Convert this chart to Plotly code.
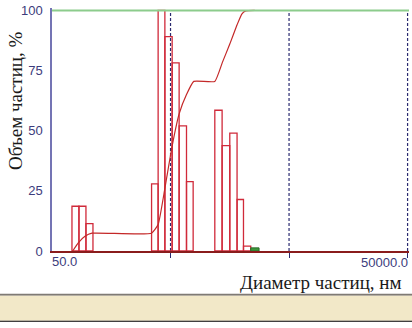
import math
import plotly.graph_objects as go

# ---- data ----
# bin edges (nm) and heights (% of max) of the volume histogram
bar_left_nm = [73.7, 84.4, 96.7,
               346, 393, 448, 516, 591, 682,
               1182, 1362, 1581, 1821, 2063]
bar_right_nm = [84.4, 96.7, 110.8,
                393, 448, 516, 591, 682, 776,
                1362, 1581, 1821, 2063, 2376]
bar_pct = [18.6, 18.6, 11.4,
           27.9, 100.0, 89.1, 78.2, 52.0, 28.8,
           58.5, 43.8, 49.0, 21.4, 2.0]

# last small bin drawn in green
green_left_nm = [2376]
green_right_nm = [2792]
green_pct = [1.3]

# cumulative volume curve
cum_x_nm = [74.7, 83.3, 94.9, 108.7, 346, 393, 448, 513, 591, 682, 786,
            1182, 1372, 1581, 1821, 1996, 2157, 2568]
cum_pct = [0.0, 3.4, 6.1, 7.4, 7.4, 11.0, 26.0, 43.0, 57.0, 65.0, 70.5,
           70.5, 78.5, 86.0, 94.0, 98.5, 99.8, 100.0]

decade_lines_nm = [500, 5000, 50000]
y_ticks = [0, 25, 50, 75, 100]
x_min_nm, x_max_nm = 50.0, 50000.0
x_tick_text = ["50.0", "50000.0"]

# ---- build figure ----
def rect_path(lefts, rights, heights):
    xs, ys = [], []
    for l, r, h in zip(lefts, rights, heights):
        xs += [l, l, r, r, l, None]
        ys += [0, h, h, 0, 0, None]
    return xs, ys

fig = go.Figure()

# decade dashed lines
dx, dy = [], []
for v in decade_lines_nm:
    dx += [v, v, None]
    dy += [0, 100, None]
fig.add_trace(go.Scatter(x=dx, y=dy, mode="lines", hoverinfo="skip",
                         line=dict(color="#2a2a70", width=1.2, dash="3px,2px")))

bx, by = rect_path(bar_left_nm, bar_right_nm, bar_pct)
fig.add_trace(go.Scatter(x=bx, y=by, mode="lines",
                         line=dict(color="#d02a3a", width=1.3)))

gx, gy = rect_path(green_left_nm, green_right_nm, green_pct)
fig.add_trace(go.Scatter(x=gx, y=gy, mode="lines", fill="toself",
                         fillcolor="#3c9a3c",
                         line=dict(color="#2a6a2a", width=1)))

fig.add_trace(go.Scatter(x=cum_x_nm, y=cum_pct, mode="lines",
                         line=dict(color="#c42828", width=1.2, shape="spline", smoothing=0.4)))

# green 100% line
fig.add_shape(type="line", xref="paper", yref="y", x0=0, x1=1, y0=100, y1=100,
              line=dict(color="#8ccc8c", width=2))

lx0 = math.log10(x_min_nm)
lx1 = math.log10(x_max_nm)

fig.update_layout(
    width=412, height=328,
    margin=dict(l=52, r=2.6, t=4.56, b=76.5, pad=0),
    paper_bgcolor="white", plot_bgcolor="white",
    showlegend=False,
    xaxis=dict(type="log", range=[lx0, lx1 + 0.012],
               showgrid=False, zeroline=False,
               showline=True, linecolor="#8a1c1c", linewidth=1.5,
               tickmode="array", tickvals=decade_lines_nm,
               ticks="outside", ticklen=5, tickcolor="#2a2a70", tickwidth=1.2,
               showticklabels=False),
    yaxis=dict(range=[0, 101], showgrid=False, zeroline=False,
               showline=True, linecolor="#7474b4", linewidth=1.5,
               tickmode="array", tickvals=y_ticks,
               ticks="", ticklabelstandoff=5, ticklabeloverflow="allow",
               tickfont=dict(family="Liberation Sans, Arial", size=13, color="#3c3c7c")),
    font=dict(family="Liberation Sans, Arial"),
)

# x tick labels at the axis ends
fig.add_annotation(x=lx0, xref="x", y=0, yref="paper", yanchor="top",
                   xanchor="left", text=x_tick_text[0], showarrow=False,
                   yshift=-1, xshift=-2,
                   font=dict(family="Liberation Sans, Arial", size=13, color="#3c3c7c"))
fig.add_annotation(x=lx1, xref="x", y=0, yref="paper", yanchor="top",
                   xanchor="right", text=x_tick_text[1], showarrow=False,
                   yshift=-2, xshift=2,
                   font=dict(family="Liberation Sans, Arial", size=13, color="#3c3c7c"))

# axis titles
fig.add_annotation(text="Объем частиц, %", xref="paper", yref="paper",
                   x=-0.1007, y=0.6175, xanchor="center", yanchor="middle",
                   textangle=-90, showarrow=False,
                   font=dict(family="Liberation Serif, Times New Roman", size=19, color="#1a1a1a"))
fig.add_annotation(text="Диаметр частиц, нм", xref="paper", yref="paper",
                   x=0.985, y=-0.1276, xanchor="right", yanchor="middle",
                   showarrow=False,
                   font=dict(family="Liberation Serif, Times New Roman", size=19, color="#1a1a1a"))

# bottom status strip
fig.add_shape(type="rect", xref="paper", yref="paper", x0=-0.2, x1=1.1,
              y0=-0.1762, y1=-0.1843, fillcolor="#7f7a74", line=dict(width=0))
fig.add_shape(type="rect", xref="paper", yref="paper", x0=-0.2, x1=1.1,
              y0=-0.1843, y1=-0.2875, fillcolor="#f2e8c8", line=dict(width=0))
fig.add_shape(type="rect", xref="paper", yref="paper", x0=-0.2, x1=1.1,
              y0=-0.2875, y1=-0.2916, fillcolor="#000000", line=dict(width=0))

fig.write_html("out.html", config={"displayModeBar": False},
               post_script="document.body.style.margin='0';document.body.style.overflow='hidden';")
